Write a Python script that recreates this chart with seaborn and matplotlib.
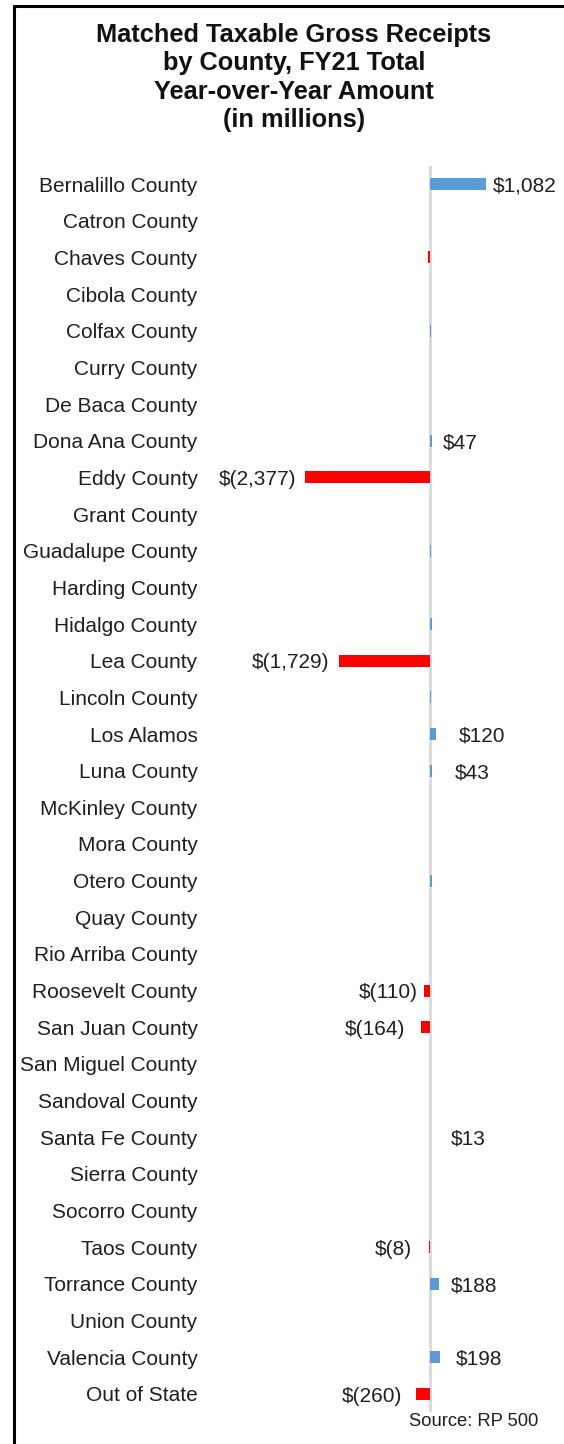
import pandas as pd
import matplotlib.pyplot as plt
import seaborn as sns
from matplotlib.lines import Line2D

# data (millions, year-over-year change)
counties = [
    "Bernalillo County", "Catron County", "Chaves County", "Cibola County",
    "Colfax County", "Curry County", "De Baca County", "Dona Ana County",
    "Eddy County", "Grant County", "Guadalupe County", "Harding County",
    "Hidalgo County", "Lea County", "Lincoln County", "Los Alamos",
    "Luna County", "McKinley County", "Mora County", "Otero County",
    "Quay County", "Rio Arriba County", "Roosevelt County", "San Juan County",
    "San Miguel County", "Sandoval County", "Santa Fe County", "Sierra County",
    "Socorro County", "Taos County", "Torrance County", "Union County",
    "Valencia County", "Out of State",
]
amounts = [
    1082, 0, -25, 0,
    30, 0, 0, 47,
    -2377, 0, 25, 0,
    55, -1729, 30, 120,
    43, 0, 0, 50,
    0, 0, -110, -164,
    0, 0, 13, 0,
    0, -8, 188, 0,
    198, -260,
]
# which bars carry a data label
labeled = ["Bernalillo County", "Dona Ana County", "Eddy County", "Lea County",
           "Los Alamos", "Luna County", "Roosevelt County", "San Juan County",
           "Santa Fe County", "Taos County", "Torrance County",
           "Valencia County", "Out of State"]

# gap (px) between bar end and its label, as placed in the reference
label_gap = {"Bernalillo County": 6, "Dona Ana County": 11, "Eddy County": 8,
             "Lea County": 9, "Los Alamos": 23, "Luna County": 23,
             "Roosevelt County": 6, "San Juan County": 16, "Santa Fe County": 21,
             "Taos County": 17, "Torrance County": 11, "Valencia County": 16,
             "Out of State": 14}

df = pd.DataFrame({"county": counties, "amount": amounts})
df["sign"] = ["pos" if v >= 0 else "neg" for v in df["amount"]]


def money(v):
    if v < 0:
        return f"$({abs(v):,})"
    return f"${v:,}"


W, H = 564, 1444
fig = plt.figure(figsize=(W / 100, H / 100), dpi=100)
sns.set_style("white")
plt.rcParams["font.family"] = ["Liberation Sans", "DejaVu Sans"]

ax = fig.add_axes([201 / W, 1 - 1412.3 / H, 359 / W, 1246.6 / H])
sns.barplot(data=df, x="amount", y="county", hue="sign", orient="h",
            palette={"pos": "#5b9bd5", "neg": "#ff0000"}, dodge=False,
            width=0.33, legend=False, ax=ax, saturation=1, linewidth=0)

ax.set_xlim(-4353, 2486)
ax.set_ylim(len(counties) - 0.5, -0.5)
ax.axvline(0, color="#d9d9d9", lw=2, zorder=0)
ax.set_xlabel("")
ax.set_ylabel("")
ax.set_xticks([])
for s in ax.spines.values():
    s.set_visible(False)
ax.tick_params(axis="y", length=2, color="#c8c8c8", pad=0.5, labelsize=15,
               labelcolor="#1f1f1f")

for i, (c, v) in enumerate(zip(counties, amounts)):
    if c not in labeled:
        continue
    gap = label_gap[c] * 0.72
    if v >= 0:
        ax.annotate(money(v), (v, i), xytext=(gap, -1.5), textcoords="offset points",
                    ha="left", va="center", fontsize=15, color="#1f1f1f")
    else:
        ax.annotate(money(v), (v, i), xytext=(-gap, -1.5), textcoords="offset points",
                    ha="right", va="center", fontsize=15, color="#1f1f1f")

fig.text(294 / W, 1 - 77.5 / H,
         "Matched Taxable Gross Receipts\nby County, FY21 Total\nYear-over-Year Amount\n(in millions)",
         ha="center", va="center", fontsize=18.3, fontweight="bold",
         linespacing=1.24, color="#111111")
fig.text(538 / W, 1 - 1421 / H, "Source: RP 500", ha="right", va="center",
         fontsize=13.2, color="#1f1f1f")

# frame lines along the top and left edge
fig.add_artist(Line2D([13.5 / W, 1], [1 - 6 / H] * 2, color="black", lw=2.2,
                      transform=fig.transFigure))
fig.add_artist(Line2D([13.5 / W] * 2, [0, 1 - 6 / H], color="black", lw=2.2,
                      transform=fig.transFigure))

fig.savefig("out.png", dpi=100)
